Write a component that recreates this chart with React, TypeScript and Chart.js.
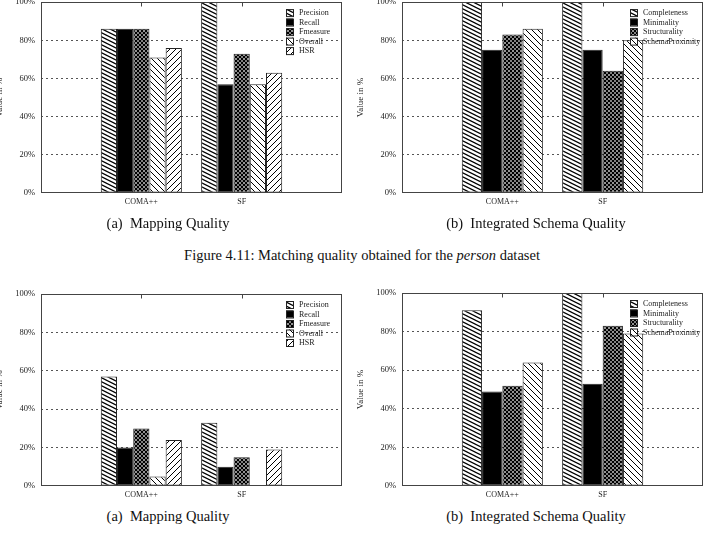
import React, { useEffect, useRef } from 'react';
import { Chart, registerables } from 'chart.js';

Chart.register(...registerables);

// ---------- data ----------
const categories = ['', 'COMA++', 'SF', ''];
const percentTicks = [0, 20, 40, 60, 80, 100];

const mappingSeries = ['Precision', 'Recall', 'Fmeasure', 'Overall', 'HSR'];
const mappingPatterns = ['dense', 'solid', 'cross', 'back', 'fwd'];
const schemaSeries = ['Completeness', 'Minimality', 'Structurality', 'SchemaProximity'];
const schemaPatterns = ['dense', 'solid', 'cross', 'back'];

// Figure 4.11 (person dataset)
const personMappingComa = [86, 86, 86, 71, 76];
const personMappingSF = [100, 57, 73, 57, 63];
const personSchemaComa = [100, 75, 83, 86];
const personSchemaSF = [100, 75, 64, 80];

// second figure
const secondMappingComa = [57, 20, 30, 5, 24];
const secondMappingSF = [33, 10, 15, 0, 19];
const secondSchemaComa = [91, 49, 52, 64];
const secondSchemaSF = [100, 53, 83, 79];

const FONT = '"Liberation Serif", "Times New Roman", serif';

function makePattern(ctx: CanvasRenderingContext2D, kind: string): any {
  if (kind === 'solid') return '#000';
  let w = 4, h = 4;
  if (kind === 'dense') { w = 8; h = 4; }
  if (kind === 'back' || kind === 'fwd') { w = 6; h = 6; }
  const c = document.createElement('canvas');
  c.width = w; c.height = h;
  const g = c.getContext('2d')!;
  g.fillStyle = '#fff';
  g.fillRect(0, 0, w, h);
  g.strokeStyle = '#000';
  g.lineWidth = kind === 'dense' ? 1.25 : kind === 'cross' ? 1.3 : 1;
  const line = (x1: number, y1: number, x2: number, y2: number) => {
    g.beginPath(); g.moveTo(x1, y1); g.lineTo(x2, y2); g.stroke();
  };
  for (let k = -3; k <= 3; k++) {
    if (kind === 'dense') line(-w, k * h - h, 2 * w, k * h + 2 * h);
    if (kind === 'back' || kind === 'cross') line(-w, k * w - w, 2 * w, k * w + 2 * w);
    if (kind === 'fwd' || kind === 'cross') line(-w, k * w + w, 2 * w, k * w - 2 * w);
  }
  return ctx.createPattern(c, 'repeat');
}

const cornerLegend = {
  id: 'cornerLegend',
  afterDraw(chart: any, _args: any, opts: any) {
    const { ctx, chartArea } = chart;
    const x = chartArea.right - opts.fromRight;
    let y = chartArea.top + opts.fromTop;
    ctx.save();
    ctx.font = `8px ${FONT}`;
    ctx.textBaseline = 'middle';
    ctx.textAlign = 'left';
    chart.data.datasets.forEach((ds: any) => {
      ctx.fillStyle = ds.backgroundColor;
      ctx.fillRect(x, y - 3.5, 7, 7);
      ctx.strokeStyle = '#222';
      ctx.lineWidth = 1;
      ctx.strokeRect(x + 0.5, y - 3, 7, 7);
      ctx.fillStyle = '#222';
      ctx.fillText(ds.label, x + 13, y + 0.5);
      y += opts.rowHeight;
    });
    ctx.restore();
  },
};

const frame = {
  id: 'frame',
  afterDatasetsDraw(chart: any) {
    const { ctx, chartArea } = chart;
    const xs = chart.scales.x;
    ctx.save();
    ctx.strokeStyle = '#444';
    ctx.lineWidth = 1;
    const l = Math.round(chartArea.left) + 0.5;
    const t = Math.round(chartArea.top) + 0.5;
    const r = Math.round(chartArea.right) - 0.5;
    const b = Math.round(chartArea.bottom) - 0.5;
    ctx.strokeRect(l, t, r - l, b - t);
    xs.ticks.forEach((_tk: any, i: number) => {
      if (!categories[i]) return;
      const px = Math.round(xs.getPixelForTick(i)) + 0.5;
      ctx.beginPath();
      ctx.moveTo(px, t);
      ctx.lineTo(px, t + 4);
      ctx.stroke();
    });
    ctx.restore();
  },
};

type Props = {
  left: number; top: number; width: number; height: number;
  area: [number, number, number, number];
  series: string[]; patterns: string[]; coma: number[]; sf: number[];
  legendFromRight: number;
};

function BarPanel(p: Props) {
  const ref = useRef<HTMLCanvasElement>(null);
  useEffect(() => {
    const canvas = ref.current!;
    const ctx = canvas.getContext('2d')!;
    const [L, T, R, B] = p.area;
    const datasets = p.series.map((name, i) => ({
      label: name,
      data: [null, p.coma[i], p.sf[i], null],
      backgroundColor: makePattern(ctx, p.patterns[i]),
      borderColor: '#222',
      borderWidth: 1,
      borderSkipped: false,
      categoryPercentage: 0.808,
      barPercentage: 1,
    }));
    const chart = new Chart(canvas, {
      type: 'bar',
      data: { labels: categories, datasets: datasets as any },
      plugins: [frame, cornerLegend],
      options: {
        responsive: false,
        animation: false,
        layout: { padding: { top: T - p.top, right: p.left + p.width - R, left: 0, bottom: 0 } },
        plugins: {
          legend: { display: false },
          tooltip: { enabled: false },
          cornerLegend: { fromRight: p.legendFromRight, fromTop: 10.5, rowHeight: 9.5 },
        } as any,
        scales: {
          x: {
            type: 'category',
            offset: false,
            grid: { display: false, drawTicks: false },
            border: { display: false },
            ticks: { autoSkip: false, maxRotation: 0, padding: 4, color: '#222', font: { family: FONT, size: 8 } },
            afterFit: (s: any) => { s.height = p.top + p.height - B; },
          },
          y: {
            min: 0,
            max: 100,
            afterBuildTicks: (s: any) => { s.ticks = percentTicks.map((v) => ({ value: v })); },
            grid: {
              drawTicks: false,
              color: (c: any) => (c.tick && (c.tick.value === 0 || c.tick.value === 100) ? 'rgba(0,0,0,0)' : '#555'),
              lineWidth: 1,
            },
            border: { display: false, dash: [2, 3] },
            ticks: {
              padding: 6,
              color: '#222',
              font: { family: FONT, size: 8.5 },
              callback: (v: any) => `${v}%`,
            },
            title: {
              display: true,
              text: 'Value in %',
              color: '#222',
              font: { family: FONT, size: 9 },
              padding: 0,
            },
            afterFit: (s: any) => { s.width = L - p.left; },
          },
        },
      } as any,
    });
    return () => chart.destroy();
  }, []);
  return (
    <canvas
      ref={ref}
      width={p.width}
      height={p.height}
      style={{ position: 'absolute', left: p.left, top: p.top, width: p.width, height: p.height }}
    />
  );
}

const capStyle: React.CSSProperties = {
  position: 'absolute',
  fontFamily: FONT,
  fontSize: 14.5,
  color: '#111',
  whiteSpace: 'pre',
  lineHeight: '16px',
  transform: 'translate(-50%, -50%)',
};

export default function App() {
  return (
    <div style={{ position: 'absolute', left: 0, top: 0, width: 714, height: 544, overflow: 'hidden', background: '#fff' }}>
      <BarPanel left={-6} top={-9} width={361} height={232} area={[41, 1, 342, 193]}
        series={mappingSeries} patterns={mappingPatterns} coma={personMappingComa} sf={personMappingSF} legendFromRight={56} />
      <BarPanel left={355} top={-9} width={359} height={232} area={[402, 1, 703, 193]}
        series={schemaSeries} patterns={schemaPatterns} coma={personSchemaComa} sf={personSchemaSF} legendFromRight={73} />
      <BarPanel left={-6} top={280} width={361} height={225} area={[41, 294, 342, 486]}
        series={mappingSeries} patterns={mappingPatterns} coma={secondMappingComa} sf={secondMappingSF} legendFromRight={56} />
      <BarPanel left={355} top={280} width={359} height={225} area={[402, 293, 703, 486]}
        series={schemaSeries} patterns={schemaPatterns} coma={secondSchemaComa} sf={secondSchemaSF} legendFromRight={73} />

      <div style={{ ...capStyle, left: 168, top: 223 }}>{'(a)  Mapping Quality'}</div>
      <div style={{ ...capStyle, left: 536, top: 223 }}>{'(b)  Integrated Schema Quality'}</div>
      <div style={{ ...capStyle, left: 362, top: 255 }}>
        Figure 4.11: Matching quality obtained for the <i>person</i> dataset
      </div>
      <div style={{ ...capStyle, left: 168, top: 516 }}>{'(a)  Mapping Quality'}</div>
      <div style={{ ...capStyle, left: 536, top: 516 }}>{'(b)  Integrated Schema Quality'}</div>
    </div>
  );
}
